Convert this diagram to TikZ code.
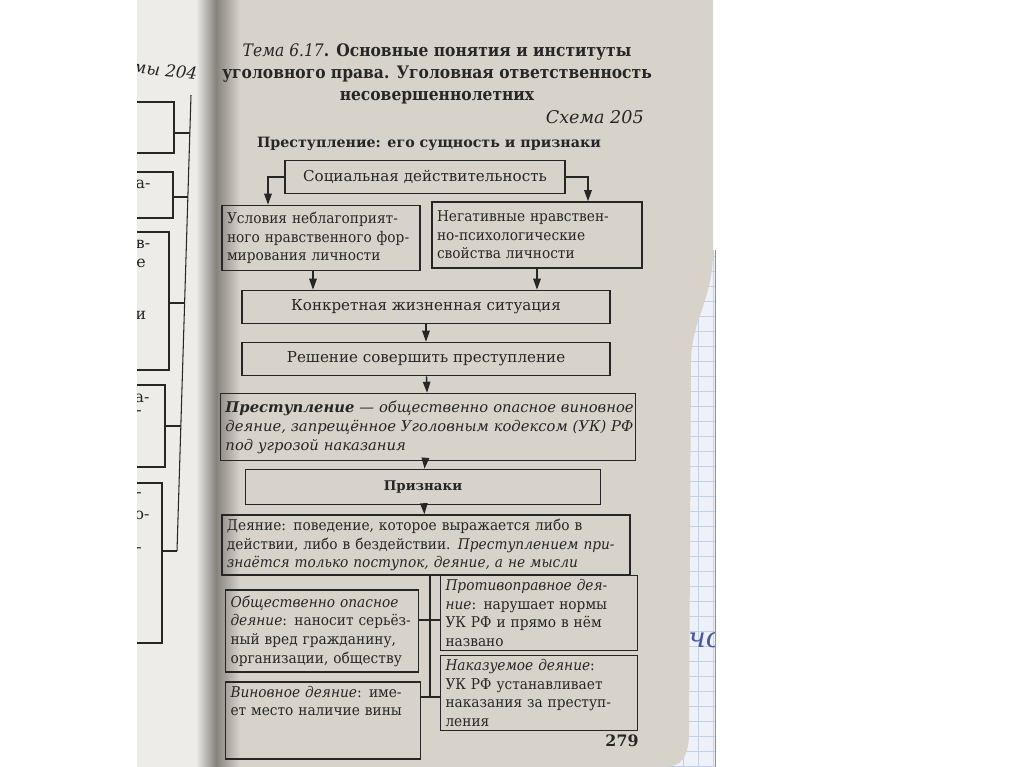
\documentclass[tikz,border=0pt]{standalone}
\usepackage{fontspec}
\setmainfont{DejaVu Serif}
\newfontfamily\headfont[FakeStretch=0.9]{DejaVu Serif}
\newfontfamily\narrowfont[FakeStretch=0.93]{DejaVu Serif}
\usepackage{tikz}
\usetikzlibrary{arrows.meta,positioning,calc}

\definecolor{page}{HTML}{D7D3CB}
\definecolor{leftpage}{HTML}{EDECE8}
\definecolor{gutter}{HTML}{86827C}
\definecolor{ink}{HTML}{262626}
\definecolor{gridline}{HTML}{C3D0E6}
\definecolor{gridpaper}{HTML}{EEF1F7}
\definecolor{pen}{HTML}{4A58A6}

% one stretched line of a justified paragraph
\newcommand{\jl}[1]{\makebox[\linewidth][s]{#1}\\}

\tikzset{
  box/.style={draw=ink, line width=0.9pt, text=ink, inner xsep=1mm, inner ysep=0.8mm,
    font=\fontsize{8.6}{10.8}\selectfont, align=left},
  small/.style={font=\narrowfont\fontsize{8.4}{10.6}\selectfont},
  arr/.style={-{Triangle[length=2.2mm,width=1.5mm]}, line width=0.8pt, draw=ink},
  link/.style={line width=0.8pt, draw=ink},
  thin/.style={line width=0.6pt, draw=ink}
}

\begin{document}
\begin{tikzpicture}[x=0.2mm,y=-0.2mm]
\useasboundingbox (0,0) rectangle (1024,767);
%\draw[help lines] (0,0) grid[step=50] (1024,767);
\fill[white] (0,0) rectangle (1024,767);
% squared paper under the book
\fill[gridpaper] (660,250) rectangle (715,767);
\begin{scope}
\clip (660,250) rectangle (715,767);
\foreach \x in {668,683,...,713} \draw[gridline,line width=0.4pt] (\x,250) -- (\x,767);
\foreach \y in {256,271,...,767} \draw[gridline,line width=0.4pt] (660,\y) -- (715,\y);
\node[text=pen, font=\itshape\fontsize{16}{16}\selectfont, anchor=west, inner sep=0pt] (pen) at (688,640) {чо};
\end{scope}
\draw[gridline!70!black,line width=0.5pt] (715,250) -- (715,767);
% pages
\fill[leftpage] (137,0) rectangle (226,767);
\fill[page] (222,0) -- (713,0) -- (713,255) .. controls (712,300) and (692,320) .. (691,360)
  -- (689,735) .. controls (688,758) and (682,767) .. (662,767) -- (222,767) -- cycle;
\shade[left color=leftpage, right color=gutter] (196,0) rectangle (216,767);
\shade[left color=gutter, right color=page] (216,0) rectangle (240,767);
%
% end of the left page (scheme 204)
\begin{scope}
\clip (137,0) rectangle (205,767);
\node[text=ink, font=\itshape\fontsize{9.5}{10}\selectfont, rotate=-6] (prev) at (165,70) {мы 204};
\foreach \t/\b/\r/\c in {102/153/174/133,172/218/173/197,232/370/169/303,385/467/165/426,483/643/162/551}
  \draw[thin] (120,\t) -| (\r,\b) -- (120,\b) (\r,\c) -- ({191-14*(\c-95)/456},\c);
\draw[thin] (191,95) -- (177,551);
\foreach \x/\y/\t in {143/184/а-,143/244/в-,141/263/е,141/315/и,142/398/а-,139/413/-,139/495/-,142/515/о-,139/550/-}
  \node[text=ink, font=\fontsize{9}{10}\selectfont] at (\x,\y) {\t};
\end{scope}
%
% heading
\node[text=ink, align=center, font=\headfont\bfseries\fontsize{9.8}{12.4}\selectfont] (title) at (437,74)
  {{\mdseries\itshape Тема 6.17}. Основные понятия и институты\\
   уголовного права. Уголовная ответственность\\ несовершеннолетних};
\node[text=ink, anchor=east, font=\itshape\fontsize{10}{12}\selectfont] (scheme) at (650,117) {Схема 205};
\node[text=ink, font=\bfseries\fontsize{8.1}{10}\selectfont] (head) at (429,144) {Преступление: его сущность и признаки};
%
% chain of boxes
\node[box, minimum width=56mm, minimum height=6.6mm, align=center] (soc) at (425,177) {Социальная действительность};
\node[box, small, text width=37.6mm, minimum height=13mm] (cond) at (321,238)
  {\jl{Условия неблагоприят-}\jl{ного нравственного фор-}мирования личности};
\node[box, small, text width=40mm, minimum height=13.2mm] (neg) at (537,235)
  {\jl{Негативные нравствен-}но-психологические\\свойства личности};
\node[box, minimum width=73.6mm, minimum height=6.6mm, align=center] (sit) at (426,307) {Конкретная жизненная ситуация};
\node[box, minimum width=73.6mm, minimum height=6.6mm, align=center] (dec) at (426,359) {Решение совершить преступление};
\node[box, text width=81mm, minimum height=13.4mm, font=\itshape\fontsize{8.4}{10.8}\selectfont] (crime) at (428,427)
  {\jl{\textbf{Преступление} — общественно опасное виновное}\jl{деяние, запрещённое Уголовным кодексом (УК) РФ}под угрозой наказания};
\node[box, minimum width=71mm, minimum height=7mm, align=center, font=\bfseries\fontsize{7.6}{9}\selectfont] (sign) at (423,487) {Признаки};
\node[box, small, text width=79.6mm, minimum height=12mm] (act) at (426,545)
  {\jl{Деяние: поведение, которое выражается либо в}\jl{действии, либо в бездействии. \textit{Преступлением при-}}\mbox{\textit{знаётся только поступок, деяние, а не мысли}}};
\node[box, small, text width=36.6mm, minimum height=16.4mm] (dang) at (322,631)
  {\jl{\textit{Общественно опасное}}\jl{\textit{деяние}: наносит серьёз-}\jl{ный вред гражданину,}\mbox{организации, обществу}};
\node[box, small, text width=37.4mm, minimum height=15mm] (illeg) at (539,613)
  {\jl{\textit{Противоправное дея-}}\jl{\textit{ние}: нарушает нормы}\jl{УК РФ и прямо в нём}названо};
\node[box, small, text width=37mm, text depth=11.6mm, anchor=north] (guilt) at (323,681)
  {\jl{\textit{Виновное деяние}: име-}\mbox{ет место наличие вины}};
\node[box, small, text width=37.4mm, minimum height=15mm] (pun) at (539,693)
  {\textit{Наказуемое деяние}:\\\jl{УК РФ устанавливает}\jl{наказания за преступ-}ления};
\node[text=ink, font=\bfseries\fontsize{9}{10}\selectfont] (pnum) at (622,741) {279};
%
% arrows
\draw[arr] (soc.west) -| ([xshift=-10.6mm]cond.north);
\draw[arr] (soc.east) -| ([xshift=10.2mm]neg.north);
\draw[arr] ([xshift=-1.6mm]cond.south) -- ([xshift=-1.6mm]cond.south |- sit.north);
\draw[arr] (neg.south) -- (neg.south |- sit.north);
\draw[arr] (sit) -- (dec);
\draw[arr] (dec) -- (crime);
\draw[arr] (crime) -- (sign);
\draw[arr] (sign) -- (act);
% the four features
\coordinate (j1) at (430,620);
\coordinate (j2) at (430,697);
\draw[link] (act.south -| j1) -- (j2);
\draw[link] (j1 -| dang.east) -- (j1 -| illeg.west);
\draw[link] (j2 -| guilt.east) -- (j2 -| pun.west);
\end{tikzpicture}
\end{document}
